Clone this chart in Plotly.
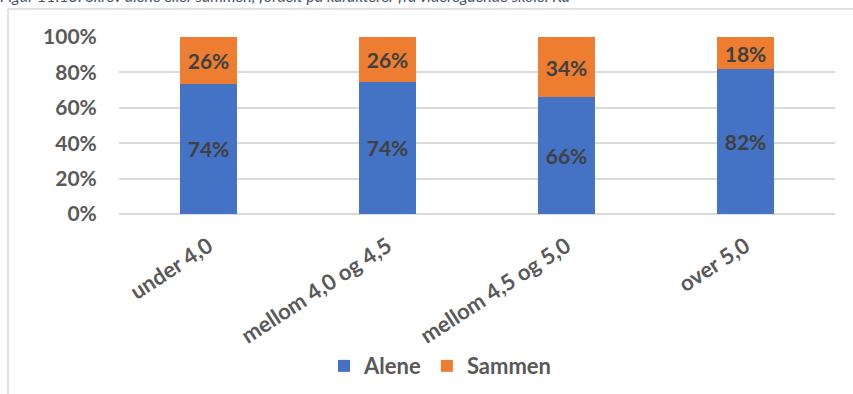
import plotly.graph_objects as go

categories = ["under 4,0", "mellom 4,0 og 4,5", "mellom 4,5 og 5,0", "over 5,0"]
alene = [73.7, 74.6, 65.9, 81.8]
sammen = [26.3, 25.4, 34.1, 18.2]
alene_labels = ["74%", "74%", "66%", "82%"]
sammen_labels = ["26%", "26%", "34%", "18%"]
y_ticks = [0, 20, 40, 60, 80, 100]
y_tick_labels = ["0%", "20%", "40%", "60%", "80%", "100%"]
title_text = "Figur 11.13: Skrev alene eller sammen, fordelt på karakterer fra videregående skole. Ka"

FONT = "Lato"
W, H = 853, 394
L, R, T, B = 119, 18, 37, 179.5
ph = H - T - B
pw = W - L - R

def py(p):
    return (H - B - p) / ph

def px(p):
    return (p - L) / pw

label_font = dict(family=FONT, size=21, color="#404040", weight="bold")

fig = go.Figure()
fig.add_trace(go.Bar(
    x=categories, y=alene, name="Alene", marker=dict(color="#4472C4", line=dict(width=0)),
    text=alene_labels, textposition="inside", insidetextanchor="middle",
    textfont=label_font, textangle=0, hoverinfo="skip",
))
fig.add_trace(go.Bar(
    x=categories, y=sammen, name="Sammen", marker=dict(color="#ED7D31", line=dict(width=0)),
    text=sammen_labels, textposition="inside", insidetextanchor="middle",
    textfont=label_font, textangle=0, hoverinfo="skip",
))

fig.update_layout(
    width=W, height=H,
    barmode="stack", bargap=0.687,
    plot_bgcolor="white", paper_bgcolor="white",
    margin=dict(l=L, r=R, t=T, b=B, pad=0, autoexpand=False),
    uniformtext=dict(mode=False),
    showlegend=True,
    legend=dict(orientation="h", x=px(440), xanchor="center", y=py(367), yanchor="middle",
                traceorder="normal",
                font=dict(family=FONT, size=22, color="#595959", weight="bold"),
                itemwidth=30, tracegroupgap=0, bgcolor="rgba(0,0,0,0)"),
    xaxis=dict(
        tickangle=-33, tickfont=dict(family=FONT, size=22, color="#595959", weight="bold"),
        showgrid=False, showline=False, ticks="outside", ticklen=10,
        tickcolor="rgba(0,0,0,0)", fixedrange=True, automargin=False,
    ),
    yaxis=dict(
        range=[0, 100], tickvals=y_ticks, ticktext=y_tick_labels,
        tickfont=dict(family=FONT, size=21, color="#595959", weight="bold"),
        showgrid=True, gridcolor="#d9d9d9", gridwidth=1.5,
        zeroline=True, zerolinecolor="#d9d9d9", zerolinewidth=1.5,
        showline=False, ticks="outside", ticklen=17, tickcolor="rgba(0,0,0,0)",
        fixedrange=True, automargin=False,
    ),
    shapes=[
        dict(type="line", xref="paper", yref="paper", x0=px(8), x1=px(900), y0=py(9), y1=py(9),
             line=dict(color="#d9d9d9", width=1.5)),
        dict(type="line", xref="paper", yref="paper", x0=px(8), x1=px(8), y0=py(9), y1=py(450),
             line=dict(color="#d9d9d9", width=1.5)),
    ],
    annotations=[
        dict(text="<i>" + title_text + "</i>", xref="paper", yref="paper",
             x=px(-2), xanchor="left", y=py(7), yanchor="bottom", showarrow=False,
             font=dict(family=FONT, size=16, color="#44546A")),
    ],
)

fig.write_html("out.html", config={"displayModeBar": False},
               post_script="document.body.style.margin='0';document.body.style.overflow='hidden';")
